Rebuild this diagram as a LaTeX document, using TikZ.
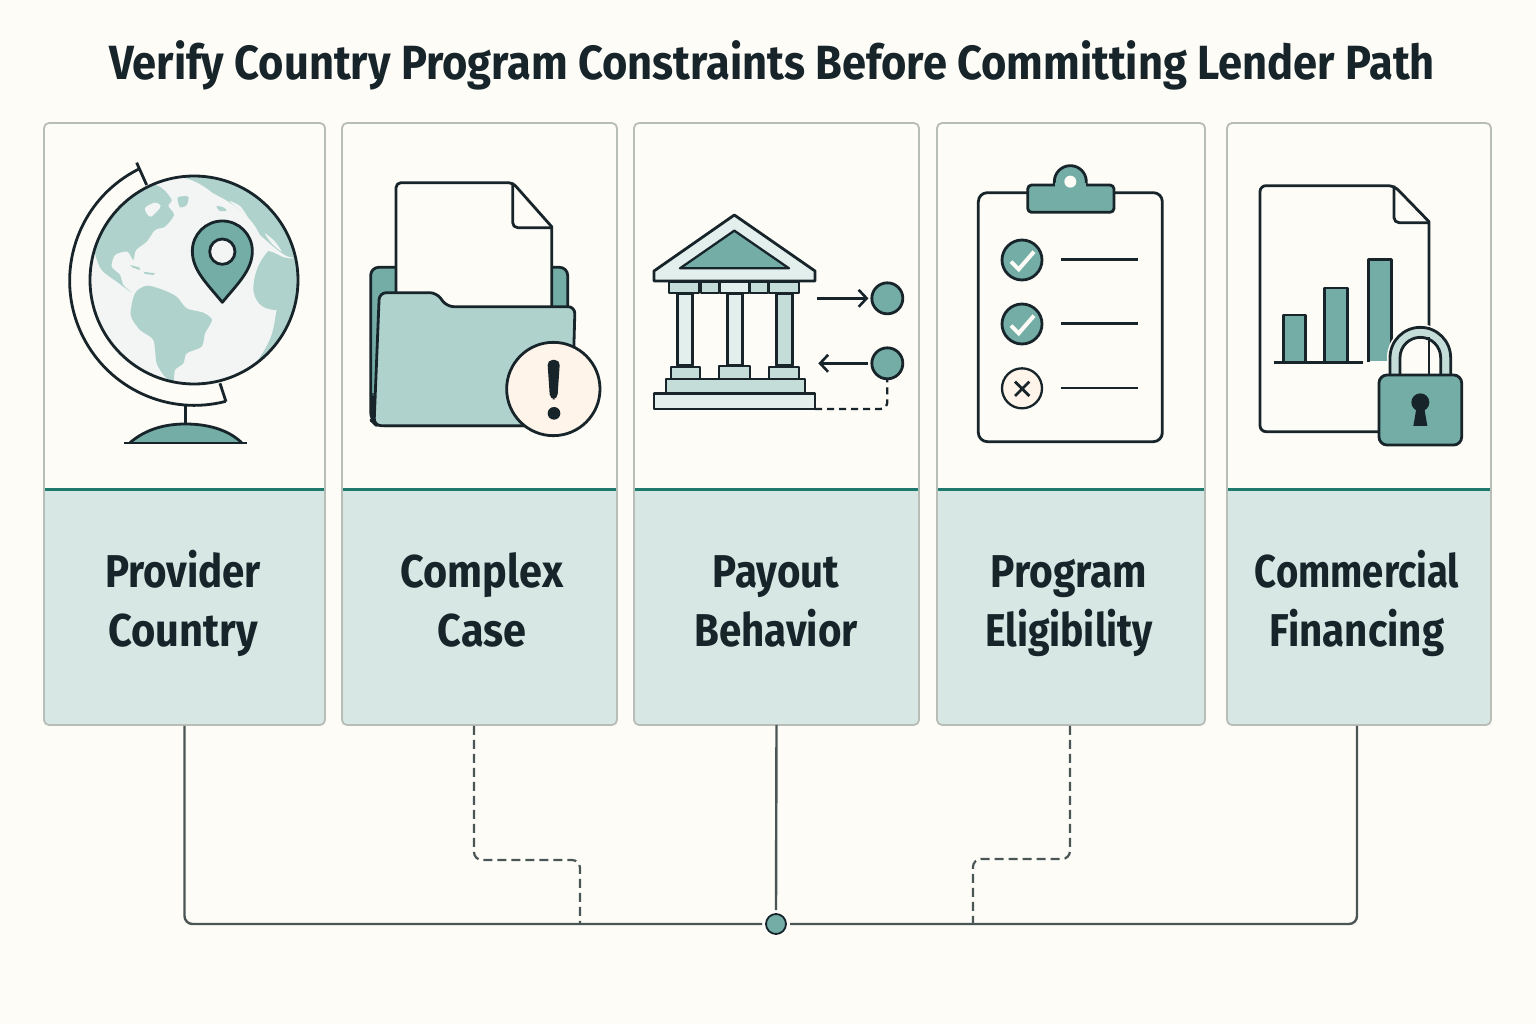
\documentclass[tikz,border=0pt]{standalone}
\usepackage{fontspec}
\usepackage{graphicx}
\setmainfont{Fira Sans}
\usetikzlibrary{arrows.meta,calc}
\definecolor{paper}{HTML}{FDFCF7}
\definecolor{panel}{HTML}{D7E7E4}
\definecolor{rulegreen}{HTML}{1F7A6E}
\definecolor{cardline}{HTML}{B9BDB8}
\definecolor{inkdark}{HTML}{17242A}
\definecolor{wire}{HTML}{4A5555}
\definecolor{teal}{HTML}{73ADA6}
\definecolor{sage}{HTML}{AFD2CC}
\definecolor{mist}{HTML}{E3EFED}
\definecolor{seafoam}{HTML}{C5DDD8}
\definecolor{globewhite}{HTML}{F2F5F3}
\definecolor{cream}{HTML}{FEF4E9}
\newcommand{\squeezed}[2][0.875]{\scalebox{#1}[1]{\strut #2}}
\tikzset{
  cardbox/.style={draw=cardline, fill=panel, line width=1.8pt, rounded corners=5pt, inner sep=0pt,
    minimum height=602pt, path picture={
      \coordinate (cutL) at ($(path picture bounding box.north west)!0.6096!(path picture bounding box.south west)$);
      \coordinate (cutR) at ($(path picture bounding box.north east)!0.6096!(path picture bounding box.south east)$);
      \fill[paper] (path picture bounding box.north west) rectangle (cutR);
      \draw[rulegreen, line width=3pt] (cutL) -- (cutR);
    }},
  cardlabel/.style={align=center, text=inkdark, font=\bfseries\fontsize{46}{59}\selectfont, inner sep=0pt},
  titletext/.style={text=inkdark, font=\bfseries\fontsize{48}{58}\selectfont, inner sep=0pt},
  icon/.style={draw=inkdark, line width=2.8pt, line join=round},
  thinicon/.style={draw=inkdark, line width=2.3pt, line join=round},
  bus/.style={draw=wire, line width=2.4pt, rounded corners=8pt},
  dashbus/.style={bus, line width=2.2pt, dash pattern=on 9pt off 5pt},
  hubdot/.style={circle, draw=inkdark, fill=teal, line width=1.8pt, minimum size=20pt, inner sep=0pt, outer sep=4pt},
  bankdot/.style={circle, draw=inkdark, fill=teal, line width=2.8pt, minimum size=31pt, inner sep=0pt},
  barb/.style={draw=inkdark, line width=2.6pt, -{Straight Barb[length=8pt,width=17pt]}}
}
\begin{document}
\begin{tikzpicture}[x=1pt, y=-1pt]
  \useasboundingbox[fill=paper] (0,0) rectangle (1536,1024);

  % title
  \node[titletext] (title) at (772,65) {\scalebox{0.905}[1]{Verify Country Program Constraints Before Committing Lender Path}};

  % cards
  \node[cardbox, minimum width=281pt] (cardA) at (184.5,424) {};
  \node[cardbox, minimum width=275pt] (cardB) at (479.5,424) {};
  \node[cardbox, minimum width=285pt] (cardC) at (776.5,424) {};
  \node[cardbox, minimum width=268pt] (cardD) at (1071,424) {};
  \node[cardbox, minimum width=264pt] (cardE) at (1359,424) {};

  % card labels
  \node[cardlabel] (labelA) at (183,605) {\squeezed{Provider}\\\squeezed[0.905]{Country}};
  \node[cardlabel] (labelB) at (482,605) {\squeezed[0.9]{Complex}\\\squeezed[0.9]{Case}};
  \node[cardlabel] (labelC) at (776,605) {\squeezed{Payout}\\\squeezed{Behavior}};
  \node[cardlabel] (labelD) at (1069,605) {\squeezed[0.885]{Program}\\\squeezed[0.85]{Eligibility}};
  \node[cardlabel] (labelE) at (1357,605) {\squeezed[0.83]{Commercial}\\\squeezed{Financing}};

  % bus below the cards
  \node[hubdot] (hub) at (776,924) {};
  \coordinate (busB) at (580,924);
  \coordinate (jogB) at (580,860);
  \coordinate (busD) at (973,924);
  \coordinate (jogD) at (973,859);
  \draw[bus] (cardA.south) |- (hub.west);
  \draw[bus] ([xshift=-2pt]cardE.south) |- (hub.east);
  \draw[bus] ([yshift=1pt]cardC.south) -- (hub.north);
  \draw[dashbus] ([xshift=-5.5pt]cardB.south) |- (jogB) -- (busB);
  \draw[dashbus] ([xshift=-1pt]cardD.south) |- (jogD) -- (busD);

  % globe
  \begin{scope}[shift={(40,120)}, scale=1/3]
    \draw[icon] (295,148) arc[start angle=243.3, end angle=75.5, radius=374];
    \draw[icon] (290,128) -- (320,195);
    \draw[icon] (540,790) -- (558,845);
    \draw[icon] (436,855) -- (436,912);
    \draw[icon, fill=teal] (270,968) .. controls (320,925) and (380,912) .. (436,912) .. controls (495,912) and (560,925) .. (605,968);
    \draw[icon] (252,969) -- (620,969);
    \fill[globewhite] (462,480) circle[radius=312];
    \begin{scope}
      \clip (462,480) circle[radius=312];
      % north america
      \fill[sage] plot[smooth cycle, tension=0.45] coordinates {(340,195) (372,210) (395,240) (385,258) (402,285) (375,320) (345,330) (320,365) (288,390) (280,420) (262,395) (225,405) (215,440) (240,465) (250,495) (275,518) (230,485) (185,450) (165,400) (150,300) (250,220)};
      \fill[globewhite] plot[smooth cycle, tension=0.6] coordinates {(315,265) (345,248) (362,258) (350,275) (330,290)};
      % greenland and islands
      \fill[sage] plot[smooth cycle, tension=0.4] coordinates {(413,232) (445,230) (440,255) (420,262)};
      \fill[sage] (270,435) -- (298,442) -- (300,450) -- (278,443) -- cycle;
      \fill[sage] (310,455) -- (345,460) -- (340,465) -- (315,462) -- cycle;
      % south america
      \fill[sage] plot[smooth cycle, tension=0.45] coordinates {(285,520) (320,497) (370,510) (410,530) (440,565) (490,578) (516,600) (495,640) (485,680) (440,700) (430,730) (405,750) (400,785) (375,770) (350,730) (340,660) (300,630) (272,585)};
      % eurasia
      \fill[sage] (425,172) .. controls (470,180) and (500,205) .. (520,220) .. controls (570,245) and (630,280) .. (660,345) .. controls (690,370) and (720,400) .. (745,410) -- (800,420) -- (800,100) -- (430,100) -- cycle;
      \fill[globewhite] plot[smooth cycle, tension=0.5] coordinates {(568,243) (600,258) (625,295) (600,270)};
      \fill[globewhite] plot[smooth cycle, tension=0.5] coordinates {(522,250) (550,275) (575,280) (545,255)};
      \fill[sage] plot[smooth cycle, tension=0.5] coordinates {(530,258) (550,262) (560,272) (538,272)};
      \fill[globewhite] plot[smooth cycle, tension=0.5] coordinates {(675,340) (705,365) (725,395) (695,370)};
      % africa
      \fill[sage] (685,393) .. controls (660,420) and (640,460) .. (640,510) .. controls (645,540) and (660,570) .. (710,570) .. controls (700,620) and (705,650) .. (650,725) -- (800,700) -- (800,415) -- (745,415) .. controls (725,415) and (705,395) .. (685,393) -- cycle;
    \end{scope}
    \draw[icon] (462,480) circle[radius=312];
    % map pin
    \draw[icon, fill=teal] (547,547) .. controls (500,490) and (457,450) .. (457,393) arc[start angle=180, end angle=360, radius=90] .. controls (637,450) and (594,490) .. (547,547) -- cycle;
    \draw[icon, fill=globewhite] (547,395) circle[radius=38];
  \end{scope}

  % folder
  \begin{scope}[shift={(340,160)}, scale=1/3]
    \draw[icon, fill=teal, rounded corners=8pt] (92,780) -- (92,322) -- (683,322) -- (683,600) -- (640,797) -- (110,797) -- cycle;
    \fill[inkdark, rounded corners=6pt] (92,700) -- (105,700) -- (105,797) -- (92,780) -- cycle;
    \draw[icon, fill=paper, rounded corners=5pt] (168,500) -- (168,68) -- (518,68) [sharp corners] -- (635,200) -- (635,500) -- cycle;
    \draw[icon, rounded corners=5pt] (518,68) -- (518,203) -- (635,203);
    \draw[icon, fill=sage, rounded corners=7pt] (118,398) -- (290,398) -- (320,440) -- (705,440) -- (695,797) -- (102,797) -- cycle;
    \draw[icon, fill=cream] (640,687) circle[radius=140];
    \fill[inkdark, rounded corners=5pt] (622,600) -- (660,600) -- (652,718) -- (630,718) -- cycle;
    \fill[inkdark] (642,760) circle[radius=19];
  \end{scope}

  % bank
  \begin{scope}[shift={(640,200)}, scale=1/3]
    \draw[icon, fill=mist] (283,45) -- (525,213) -- (525,243) -- (42,243) -- (42,213) -- cycle;
    \draw[thinicon, fill=teal] (283,92) -- (447,205) -- (120,205) -- cycle;
    \draw[thinicon, fill=seafoam] (87,245) rectangle (178,280);
    \draw[thinicon, fill=seafoam] (183,245) rectangle (237,280);
    \draw[thinicon, fill=mist] (240,245) rectangle (328,280);
    \draw[thinicon, fill=seafoam] (330,245) rectangle (383,280);
    \draw[thinicon, fill=seafoam] (387,245) rectangle (478,280);
    \draw[icon, fill=mist] (112,282) rectangle (157,497);
    \draw[icon, fill=mist] (262,282) rectangle (307,497);
    \draw[icon, fill=seafoam] (410,282) rectangle (457,497);
    \draw[thinicon, fill=seafoam] (92,500) rectangle (180,537);
    \draw[thinicon, fill=seafoam] (238,498) rectangle (330,537);
    \draw[thinicon, fill=seafoam] (387,500) rectangle (478,537);
    \draw[thinicon, fill=seafoam] (77,538) rectangle (495,578);
    \draw[icon, fill=mist] (42,580) rectangle (525,627);
    \node[bankdot] (dotOut) at (742,295) {};
    \node[bankdot] (dotIn) at (742,490) {};
    \coordinate (bankOut) at (530,295);
    \coordinate (bankIn) at (535,490);
    \coordinate (bankFoot) at (525,627);
    \coordinate (dashCorner) at (742,627);
    \draw[barb] (bankOut) -- ([xshift=-6pt]dotOut.west);
    \draw[barb] ([xshift=-6pt]dotIn.west) -- (bankIn);
    \draw[draw=inkdark, line width=2.3pt, dash pattern=on 7pt off 5pt, rounded corners=7pt] (bankFoot) -- (dashCorner) -- ([yshift=5pt]dotIn.south);
  \end{scope}

  % clipboard
  \begin{scope}[shift={(960,150)}, scale=1/3]
    \draw[icon, fill=paper, rounded corners=9pt] (55,128) rectangle (607,875);
    \draw[icon, fill=teal] (283,105) -- (283,95) arc[start angle=180, end angle=360, radius=48] -- (379,105);
    \draw[icon, fill=teal, rounded corners=4pt] (203,105) rectangle (462,187);
    \fill[teal] (285,98) rectangle (377,110);
    \fill[paper] (331,95) circle[radius=18];
    \draw[icon, fill=teal] (186,330) circle[radius=60];
    \draw[paper, line width=4pt] (153,335) -- (176,358) -- (222,305);
    \draw[icon, fill=teal] (186,522) circle[radius=60];
    \draw[paper, line width=4pt] (153,527) -- (176,550) -- (222,497);
    \draw[thinicon, fill=cream] (186,715) circle[radius=60];
    \draw[inkdark, line width=2.8pt] (165,695) -- (208,738) (208,695) -- (165,738);
    \draw[icon] (303,328) -- (533,328);
    \draw[icon] (303,521) -- (533,521);
    \draw[icon] (303,714) -- (533,714);
  \end{scope}

  % document with lock
  \begin{scope}[shift={(1240,170)}, scale=1/3]
    \draw[icon, fill=paper, rounded corners=6pt] (567,785) -- (60,785) -- (60,47) -- (462,47) [sharp corners] -- (567,155) -- cycle;
    \draw[icon, rounded corners=5pt] (462,47) -- (462,158) -- (567,158);
    \draw[icon, fill=teal] (130,575) -- (130,435) -- (197,435) -- (197,575);
    \draw[icon, fill=teal] (253,575) -- (253,354) -- (322,354) -- (322,575);
    \fill[teal] (385,269) rectangle (455,574);
    \draw[icon] (385,575) -- (385,269) -- (455,269) -- (455,530);
    \draw[icon] (103,577) -- (370,577);
    \fill[paper] (441,620) -- (441,563) arc[start angle=180, end angle=360, radius=100] -- (641,620) -- cycle;
    \draw[icon] (567,470) -- (567,640);
    \draw[icon, fill=seafoam] (450,618) -- (450,563) arc[start angle=180, end angle=360, radius=91] -- (632,618) -- (602,618) -- (602,563) arc[start angle=360, end angle=180, radius=61] -- (480,618) -- cycle;
    \draw[icon] (567,502) -- (567,618);
    \draw[icon, fill=teal, rounded corners=8pt] (417,615) rectangle (665,825);
    \fill[inkdark] (541,697) circle[radius=27];
    \fill[inkdark] (530,710) -- (552,710) -- (562,768) -- (520,768) -- cycle;
  \end{scope}
\end{tikzpicture}
\end{document}
